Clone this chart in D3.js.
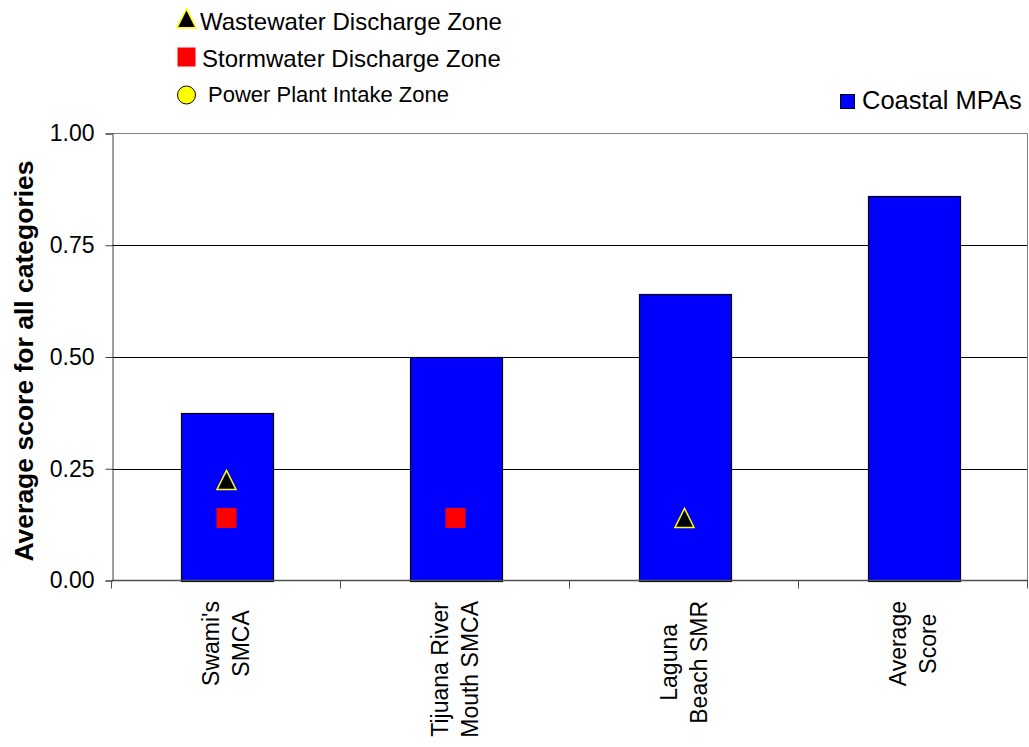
<!DOCTYPE html>
<html>
<head>
<meta charset="utf-8">
<script src="https://cdn.jsdelivr.net/npm/d3@7"></script>
<style>
  html, body { margin: 0; padding: 0; background: #fff; }
  svg { display: block; font-family: Arial, "Liberation Sans", Helvetica, sans-serif; }
</style>
</head>
<body>
<svg id="chart" width="1029" height="747"></svg>
<script>
// Sites and their average scores across all categories
const categories = [["Swami's", "SMCA"], ["Tijuana River", "Mouth SMCA"], ["Laguna", "Beach SMR"], ["Average", "Score"]];
const coastalScores = [0.375, 0.5, 0.64, 0.86];

// Zone markers plotted over the bars (null = no marker for that site)
const wastewaterScores = [0.225, null, 0.14, null];
const stormwaterScores = [0.14, 0.14, null, null];
const powerPlantScores = [null, null, null, null];

const yTicks = [0, 0.25, 0.5, 0.75, 1.0];
const yTitle = "Average score for all categories";

const svg = d3.select("#chart");
const plot = { left: 112, right: 1028, top: 133.5, bottom: 580.5 };

const catKeys = categories.map((c, i) => i);
const x = d3.scaleBand().domain(catKeys).range([plot.left, plot.right]).padding(0);
const y = d3.scaleLinear().domain([0, 1]).range([plot.bottom, plot.top]);
const barW = x.bandwidth() * 0.4;

// Gridlines
svg.append("g")
  .selectAll("line")
  .data(yTicks.filter(t => t > 0 && t < 1))
  .join("line")
  .attr("x1", plot.left).attr("x2", plot.right)
  .attr("y1", d => Math.round(y(d)) + 0.5).attr("y2", d => Math.round(y(d)) + 0.5)
  .attr("stroke", "#000").attr("stroke-width", 1);

// Plot-area frame (top and right)
svg.append("path")
  .attr("d", `M${plot.left},${plot.top}H${plot.right - 0.5}V${plot.bottom}`)
  .attr("fill", "none").attr("stroke", "#808080").attr("stroke-width", 1);

// Bars
svg.append("g")
  .selectAll("rect")
  .data(coastalScores)
  .join("rect")
  .attr("x", (d, i) => Math.round(x(i) + (x.bandwidth() - barW) / 2) + 0.5)
  .attr("width", Math.round(barW))
  .attr("y", d => Math.round(y(d)) + 0.5)
  .attr("height", d => Math.round(y(0)) - Math.round(y(d)))
  .attr("fill", "#0000FF")
  .attr("stroke", "#000").attr("stroke-width", 1.2);

// Y axis
const yAxis = d3.axisLeft(y).tickValues(yTicks).tickSize(7).tickPadding(11)
  .tickFormat(d3.format(".2f"));
const gy = svg.append("g").attr("transform", `translate(${plot.left + 0.5},0)`).call(yAxis);
gy.select(".domain").attr("stroke", "#404040");
gy.selectAll(".tick line").attr("stroke", "#404040");
gy.selectAll(".tick text").attr("font-size", 23).attr("fill", "#000")
  .attr("font-family", "Arial, 'Liberation Sans', sans-serif");

// X axis: ticks at category boundaries
const gx = svg.append("g");
gx.append("line")
  .attr("x1", plot.left).attr("x2", plot.right)
  .attr("y1", plot.bottom).attr("y2", plot.bottom)
  .attr("stroke", "#505050").attr("stroke-width", 1.5);
gx.selectAll("line.tk")
  .data(catKeys.concat([catKeys.length]))
  .join("line").attr("class", "tk")
  .attr("x1", i => Math.round(i < catKeys.length ? x(i) : plot.right) - 0.5)
  .attr("x2", i => Math.round(i < catKeys.length ? x(i) : plot.right) - 0.5)
  .attr("y1", plot.bottom).attr("y2", plot.bottom + 8)
  .attr("stroke", "#505050").attr("stroke-width", 1);

// Category labels, rotated, lines centred along the text
const labelTop = 601;
const lineGap = 30;
categories.forEach((lines, i) => {
  const cx = x(i) + x.bandwidth() / 2;
  const g = gx.append("g");
  const texts = lines.map((ln, j) =>
    g.append("text").text(ln).attr("font-size", 23).attr("fill", "#000")
      .attr("text-anchor", "middle"));
  const maxLen = d3.max(texts, t => t.node().getComputedTextLength());
  g.attr("transform", `translate(${cx},${labelTop + maxLen / 2}) rotate(-90)`);
  texts.forEach((t, j) => t.attr("x", 0).attr("y", (j - (lines.length - 1) / 2) * lineGap + 7.5));
});

// Y axis title
svg.append("text")
  .attr("transform", `translate(33,361) rotate(-90)`)
  .attr("text-anchor", "middle")
  .attr("font-size", 26.5).attr("font-weight", "bold").attr("fill", "#000")
  .text(yTitle);

// Marker shapes
const triPath = (cx, cy, s) => `M${cx},${cy - s / 2}L${cx + s / 2},${cy + s / 2}L${cx - s / 2},${cy + s / 2}Z`;
const markers = svg.append("g");
const bandCenter = i => x(i) + x.bandwidth() / 2;

markers.selectAll("path.ww")
  .data(wastewaterScores.map((v, i) => ({ v, i })).filter(d => d.v != null))
  .join("path").attr("class", "ww")
  .attr("d", d => triPath(bandCenter(d.i), y(d.v), 19))
  .attr("fill", "#000").attr("stroke", "#FFFF00").attr("stroke-width", 1.5);

markers.selectAll("rect.sw")
  .data(stormwaterScores.map((v, i) => ({ v, i })).filter(d => d.v != null))
  .join("rect").attr("class", "sw")
  .attr("x", d => bandCenter(d.i) - 10).attr("y", d => y(d.v) - 10)
  .attr("width", 20).attr("height", 20)
  .attr("fill", "#FF0000");

markers.selectAll("circle.pp")
  .data(powerPlantScores.map((v, i) => ({ v, i })).filter(d => d.v != null))
  .join("circle").attr("class", "pp")
  .attr("cx", d => bandCenter(d.i)).attr("cy", d => y(d.v)).attr("r", 9)
  .attr("fill", "#FFFF00").attr("stroke", "#000");

// Legend: zones
const leg = svg.append("g");
leg.append("path").attr("d", triPath(186.5, 18.3, 19))
  .attr("fill", "#000").attr("stroke", "#FFFF00").attr("stroke-width", 1.5);
leg.append("text").attr("x", 200).attr("y", 29.5).attr("font-size", 24).text("Wastewater Discharge Zone");

leg.append("rect").attr("x", 177.5).attr("y", 47.5).attr("width", 18).attr("height", 19).attr("fill", "#FF0000");
leg.append("text").attr("x", 202).attr("y", 67).attr("font-size", 24).text("Stormwater Discharge Zone");

leg.append("circle").attr("cx", 186.5).attr("cy", 95).attr("r", 9)
  .attr("fill", "#FFFF00").attr("stroke", "#000").attr("stroke-width", 1);
leg.append("text").attr("x", 208).attr("y", 102).attr("font-size", 22).text("Power Plant Intake Zone");

// Legend: bars
leg.append("rect").attr("x", 840.5).attr("y", 94.5).attr("width", 14).attr("height", 14)
  .attr("fill", "#0000FF").attr("stroke", "#000").attr("stroke-width", 1);
leg.append("text").attr("x", 862).attr("y", 109).attr("font-size", 25.5).text("Coastal MPAs");
</script>
</body>
</html>
